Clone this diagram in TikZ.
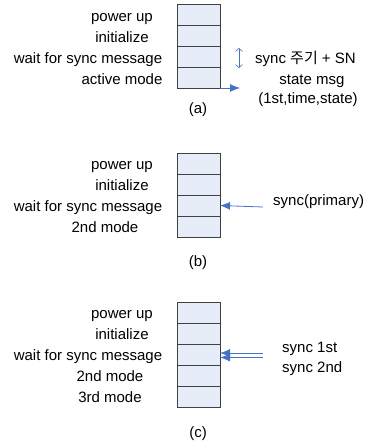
\documentclass[tikz,border=0pt]{standalone}
\usepackage{fontspec}
\setmainfont{Liberation Sans}
\newfontfamily\krfont{Noto Sans CJK KR}
\usetikzlibrary{arrows.meta}
\definecolor{cellfill}{RGB}{230,237,248}
\definecolor{arrowblue}{RGB}{68,114,196}
\begin{document}
\begin{tikzpicture}[
        x=1pt, y=-1pt,
        font=\fontsize{15}{18}\selectfont,
        cell/.style={rectangle, draw=black!75, line width=0.9pt, fill=cellfill, minimum width=43pt, minimum height=21pt, inner sep=0pt, outer sep=0pt},
        lbl/.style={inner sep=0pt, text height=11pt, text depth=3pt, anchor=center},
        sig/.style={-{Latex[length=10pt,width=8pt]}, arrowblue, line width=0.8pt},
        span/.style={{Straight Barb[length=3pt,width=7pt]}-{Straight Barb[length=3pt,width=7pt]}, arrowblue, line width=0.6pt}
    ]
        \useasboundingbox (0,0) rectangle (368,445);

        % (a)
        \node[cell] (a1) at (198.5, 14.5) {};
        \node[cell] (a2) at (198.5, 35.5) {};
        \node[cell] (a3) at (198.5, 56.5) {};
        \node[cell] (a4) at (198.5, 77.5) {};
        \node[lbl] (la1) at (122, 17) {power up};
        \node[lbl] (la2) at (122, 38) {initialize};
        \node[lbl] (la3) at (88, 59) {wait for sync message};
        \node[lbl] (la4) at (122, 80) {active mode};
        \coordinate (aout) at (240, 88);
        \draw[sig] (a4.south east) -- (aout);
        \coordinate (ptop) at (239, 48);
        \coordinate (pbot) at (239, 68);
        \draw[span] (ptop) -- (pbot);
        \node[lbl, anchor=west] (period) at (255, 59) {sync {\krfont 주기} + SN};
        \node[lbl] (smsg) at (312, 80) {state msg};
        \node[lbl] (sargs) at (308, 99) {(1st,time,state)};
        \node[lbl] (capa) at (198, 109) {(a)};

        % (b)
        \node[cell] (b1) at (198.5, 163.5) {};
        \node[cell] (b2) at (198.5, 184.5) {};
        \node[cell] (b3) at (198.5, 205.5) {};
        \node[cell] (b4) at (198.5, 226.5) {};
        \node[lbl] (lb1) at (122, 165) {power up};
        \node[lbl] (lb2) at (122, 186) {initialize};
        \node[lbl] (lb3) at (88, 207) {wait for sync message};
        \node[lbl] (lb4) at (105, 228) {2nd mode};
        \coordinate (bin) at (263, 207);
        \draw[sig] (bin) -- (b3.east);
        \node[lbl, anchor=west] (prim) at (273, 201) {sync(primary)};
        \node[lbl] (capb) at (198, 262) {(b)};

        % (c)
        \node[cell] (c1) at (198.5, 312.5) {};
        \node[cell] (c2) at (198.5, 333.5) {};
        \node[cell] (c3) at (198.5, 354.5) {};
        \node[cell] (c4) at (198.5, 375.5) {};
        \node[cell] (c5) at (198.5, 396.5) {};
        \node[lbl] (lc1) at (122, 314) {power up};
        \node[lbl] (lc2) at (122, 335) {initialize};
        \node[lbl] (lc3) at (88, 356) {wait for sync message};
        \node[lbl] (lc4) at (110, 377) {2nd mode};
        \node[lbl] (lc5) at (110, 398) {3rd mode};
        \coordinate (cin1) at (263, 353);
        \coordinate (cin2) at (263, 357.5);
        \draw[sig] (cin1) -- (c3.east |- cin1);
        \draw[sig] (cin2) -- (c3.east |- cin2);
        \node[lbl, anchor=west] (first) at (282, 348) {sync 1st};
        \node[lbl, anchor=west] (second) at (282, 368) {sync 2nd};
        \node[lbl] (capc) at (198, 433) {(c)};
    \end{tikzpicture}
\end{document}
